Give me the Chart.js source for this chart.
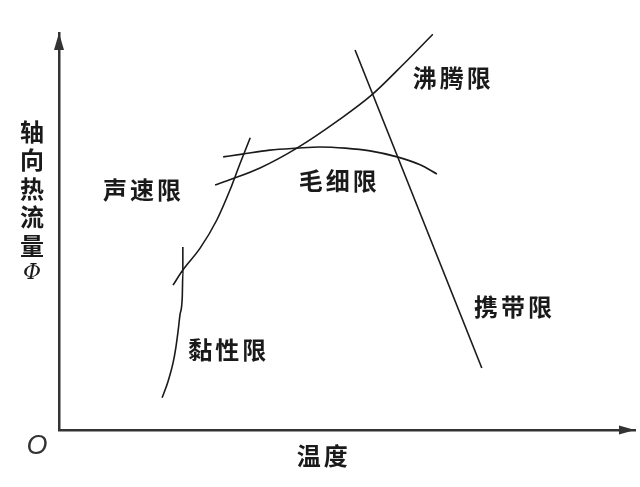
<!DOCTYPE html>
<html>
<head>
<meta charset="utf-8">
<script src="https://cdn.jsdelivr.net/npm/chart.js@4"></script>
<style>
  html, body { margin: 0; padding: 0; background: #fff; }
  #wrap { width: 640px; height: 487px; position: relative; }
</style>
</head>
<body>
<div id="wrap"><canvas id="c"></canvas></div>
<script>
// ---- data (schematic units, x: temperature 0-100, y: axial heat flow 0-100) ----
const xTitle = '温度';
const yTitle = ['轴', '向', '热', '流', '量'];
const yUnit = 'Φ';
const originLabel = 'O';

const curveNames = ['黏性限', '声速限', '毛细限', '沸腾限', '携带限'];

const viscousX = [17.9, 18.9, 19.8, 20.3, 20.7, 21.0, 21.4, 21.5, 21.5];
const viscousY = [8.1, 12.1, 16.9, 20.9, 25.2, 29.0, 33.5, 39.6, 46.1];

const sonicX = [19.8, 21.5, 24.5, 27.4, 29.7, 31.4, 33.2];
const sonicY = [36.5, 40.3, 45.8, 52.9, 60.5, 67.0, 73.6];

const capillaryX = [28.5, 31.8, 36.6, 41.3, 45.3, 49.7, 54.0, 58.7, 62.7, 65.6];
const capillaryY = [68.8, 69.5, 70.5, 71.0, 71.3, 71.0, 70.3, 68.8, 66.8, 64.5];

const boilingX = [27.1, 30.0, 34.9, 41.3, 48.3, 54.3, 59.7, 64.9];
const boilingY = [61.7, 63.2, 66.0, 71.0, 77.8, 84.4, 92.0, 99.7];

const entrainX = [51.4, 73.4];
const entrainY = [95.7, 15.6];

// label anchors (data units)
const nameAnchorX = [29.2, 14.4, 48.4, 68.2, 78.8];
const nameAnchorY = [20.2, 60.5, 62.7, 88.7, 31.0];

const series = [
  [viscousX, viscousY],
  [sonicX, sonicY],
  [capillaryX, capillaryY],
  [boilingX, boilingY],
  [entrainX, entrainY]
];

const datasets = series.map((s, i) => ({
  label: curveNames[i],
  data: s[0].map((x, k) => ({ x: x, y: s[1][k] })),
  showLine: true,
  borderColor: '#1a1a1a',
  borderWidth: 1.6,
  pointRadius: 0,
  cubicInterpolationMode: 'monotone',
  fill: false
}));

const CJK = '"Noto Sans CJK SC", "Noto Sans", sans-serif';

const decor = {
  id: 'decor',
  afterDraw(chart) {
    const ctx = chart.ctx;
    const a = chart.chartArea;
    const sx = chart.scales.x, sy = chart.scales.y;
    ctx.save();
    // arrowheads
    ctx.fillStyle = '#333';
    ctx.beginPath();
    ctx.moveTo(a.left, a.top);
    ctx.lineTo(a.left - 5, a.top + 17);
    ctx.lineTo(a.left + 5, a.top + 17);
    ctx.closePath();
    ctx.fill();
    ctx.beginPath();
    ctx.moveTo(a.right, a.bottom);
    ctx.lineTo(a.right - 16, a.bottom - 4.5);
    ctx.lineTo(a.right - 16, a.bottom + 4.5);
    ctx.closePath();
    ctx.fill();

    // curve names
    ctx.fillStyle = '#1a1a1a';
    ctx.textAlign = 'center';
    ctx.textBaseline = 'middle';
    ctx.font = 'bold 24px ' + CJK;
    if ('letterSpacing' in ctx) ctx.letterSpacing = '3px';
    curveNames.forEach((n, i) => {
      ctx.fillText(n, sx.getPixelForValue(nameAnchorX[i]) + 1.5, sy.getPixelForValue(nameAnchorY[i]));
    });

    // x title
    ctx.fillText(xTitle, sx.getPixelForValue(45.7) + 1.5, a.bottom + 26);
    if ('letterSpacing' in ctx) ctx.letterSpacing = '0px';

    // y title stacked vertically
    const yStart = sy.getPixelForValue(75.1);
    yTitle.forEach((ch, k) => {
      ctx.fillText(ch, a.left - 27, yStart + k * 28.5);
    });
    ctx.font = 'italic 22px "DejaVu Serif", "Liberation Serif", serif';
    ctx.fillText(yUnit, a.left - 27, yStart + 5 * 28.5 - 1);

    // origin
    ctx.font = 'italic 27px "Liberation Sans", sans-serif';
    ctx.fillStyle = '#333';
    ctx.fillText(originLabel, a.left - 22, a.bottom + 16);
    ctx.restore();
  }
};

new Chart(document.getElementById('c'), {
  type: 'scatter',
  data: { datasets: datasets },
  options: {
    responsive: true,
    maintainAspectRatio: false,
    animation: false,
    devicePixelRatio: 1,
    layout: { padding: { left: 59, right: 5, top: 33, bottom: 57 } },
    plugins: { legend: { display: false }, tooltip: { enabled: false } },
    scales: {
      x: {
        type: 'linear', min: 0, max: 100,
        ticks: { display: false },
        grid: { display: false, drawTicks: false },
        border: { display: true, color: '#333', width: 2.5 }
      },
      y: {
        type: 'linear', min: 0, max: 100,
        ticks: { display: false },
        grid: { display: false, drawTicks: false },
        border: { display: true, color: '#333', width: 2.5 }
      }
    }
  },
  plugins: [decor]
});
</script>
</body>
</html>
